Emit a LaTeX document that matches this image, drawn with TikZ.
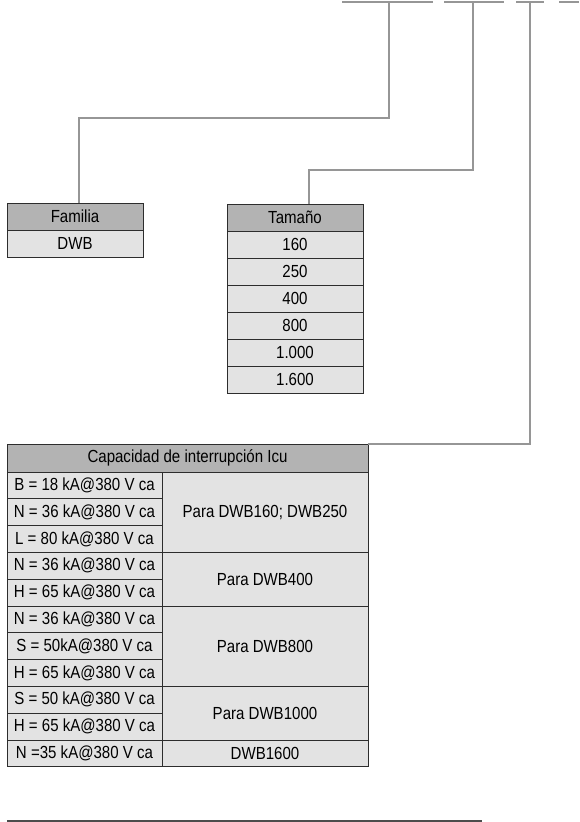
\documentclass[tikz,border=0pt]{standalone}
\usepackage{fontspec}
\setmainfont{Liberation Sans}[FakeStretch=0.86]
\usetikzlibrary{positioning}
\definecolor{hdrgray}{RGB}{179,179,179}
\definecolor{cellgray}{RGB}{227,227,227}
\definecolor{wiregray}{RGB}{150,150,150}
\definecolor{framegray}{RGB}{45,45,45}

\begin{document}
\begin{tikzpicture}[x=1pt, y=-1pt,
    hdr/.style={draw=framegray, line width=1pt, fill=hdrgray, inner sep=0pt, outer sep=0pt,
      font=\fontsize{17.5}{20}\selectfont},
    cell/.style={draw=framegray, line width=1pt, fill=cellgray, inner sep=0pt, outer sep=0pt,
      font=\fontsize{17.5}{20}\selectfont},
    wire/.style={draw=wiregray, line width=1.1pt}]
  \useasboundingbox (0,0) rectangle (579,822);

  % code bars on top
  \draw[wire] (342,2) -- (433,2);
  \draw[wire] (444,2) -- (504,2);
  \draw[wire] (516,2) -- (544,2);
  \draw[wire] (559,2) -- (579,2);
  \coordinate (t1) at (389,2);
  \coordinate (t2) at (473,2);
  \coordinate (t3) at (530,2);
  \coordinate (k1) at (79,118);
  \coordinate (k2) at (309,170);

  % familia
  \node[hdr, minimum width=136pt, minimum height=27pt] (fam) at (75,216.5) {Familia};
  \node[cell, minimum width=136pt, minimum height=27pt, below=0pt of fam] (dwb) {DWB};

  % tamano
  \node[hdr, minimum width=136pt, minimum height=27pt] (tam) at (295,217.5) {Tamaño};
  \node[cell, minimum width=136pt, minimum height=27pt, below=0pt of tam] (t160) {160};
  \node[cell, minimum width=136pt, minimum height=27pt, below=0pt of t160] (t250) {250};
  \node[cell, minimum width=136pt, minimum height=27pt, below=0pt of t250] (t400) {400};
  \node[cell, minimum width=136pt, minimum height=27pt, below=0pt of t400] (t800) {800};
  \node[cell, minimum width=136pt, minimum height=27pt, below=0pt of t800] (t1000) {1.000};
  \node[cell, minimum width=136pt, minimum height=27pt, below=0pt of t1000] (t1600) {1.600};

  % capacidad de interrupcion
  \node[hdr, minimum width=361pt, minimum height=28pt] (icu) at (187.5,458) {Capacidad de interrupción Icu};
  \begin{scope}[every node/.style={cell, minimum width=155pt, minimum height=26.8pt}]
    \node (b18)  at (84.5,485.4) {B = 18 kA@380 V ca};
    \node (n36a) at (84.5,512.2) {N = 36 kA@380 V ca};
    \node (l80)  at (84.5,539.0) {L = 80 kA@380 V ca};
    \node (n36b) at (84.5,565.8) {N = 36 kA@380 V ca};
    \node (h65a) at (84.5,592.6) {H = 65 kA@380 V ca};
    \node (n36c) at (84.5,619.4) {N = 36 kA@380 V ca};
    \node (s50a) at (84.5,646.2) {S = 50kA@380 V ca};
    \node (h65b) at (84.5,673.0) {H = 65 kA@380 V ca};
    \node (s50b) at (84.5,699.8) {S = 50 kA@380 V ca};
    \node (h65c) at (84.5,726.6) {H = 65 kA@380 V ca};
    \node (n35)  at (84.5,753.4) {N =35 kA@380 V ca};
  \end{scope}
  \begin{scope}[every node/.style={cell, minimum width=206pt}]
    \node[minimum height=80.4pt] (p250)  at (265,512.2) {Para DWB160; DWB250};
    \node[minimum height=53.6pt] (p400)  at (265,579.2) {Para DWB400};
    \node[minimum height=80.4pt] (p800)  at (265,646.2) {Para DWB800};
    \node[minimum height=53.6pt] (p1000) at (265,713.2) {Para DWB1000};
    \node[minimum height=26.8pt] (p1600) at (265,753.4) {DWB1600};
  \end{scope}

  % connectors
  \draw[wire] (t1) |- (k1) -- ([xshift=4pt]fam.north);
  \draw[wire] (t2) |- (k2) -- ([xshift=14pt]tam.north);
  \draw[wire] (t3) |- (icu.north east);

  % bottom rule
  \draw[draw=black!70, line width=1.3pt] (7,821) -- (482,821);
\end{tikzpicture}
\end{document}
